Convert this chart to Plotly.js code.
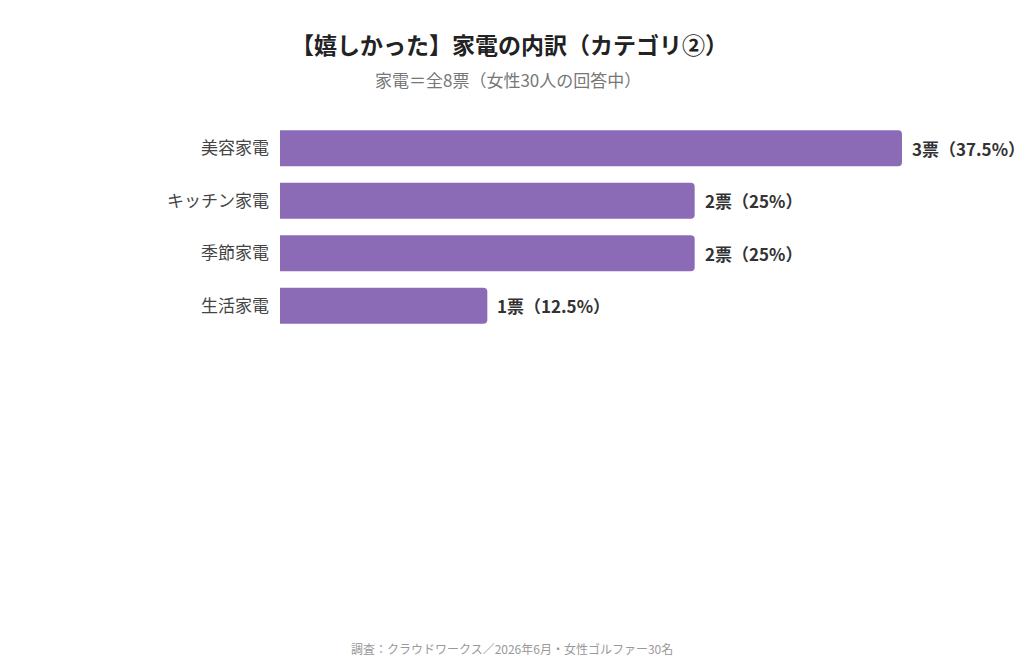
<!DOCTYPE html>
<html><head><meta charset="utf-8">
<script src="https://cdn.plot.ly/plotly-3.0.1.min.js"></script>
<style>html,body{margin:0;padding:0;background:#fff;}#chart{width:1024px;height:670px;}</style>
</head><body><div id="chart"></div>
<script>
const categories = ["美容家電", "キッチン家電", "季節家電", "生活家電"];
const votes = [3, 2, 2, 1];
const percents = ["37.5%", "25%", "25%", "12.5%"];
const labels = votes.map((v, i) => v + "票（" + percents[i] + "）");

const FONT = '"Noto Sans CJK JP", "Noto Sans", sans-serif';

const trace = {
  type: 'bar',
  orientation: 'h',
  y: categories,
  x: votes,
  textposition: 'none',
  cliponaxis: false,
  marker: {color: '#8B6BB6'},
  hoverinfo: 'none'
};

const layout = {
  width: 1024, height: 670,
  paper_bgcolor: '#ffffff', plot_bgcolor: '#ffffff',
  margin: {l: 280, r: 122, t: 122, b: 338},
  bargap: 0.31,
  barcornerradius: 4,
  showlegend: false,
  font: {family: FONT},
  xaxis: {range: [0, 3], visible: false, fixedrange: true},
  yaxis: {
    autorange: 'reversed', showgrid: false, zeroline: false, showline: false,
    ticks: '', ticklabelstandoff: 10,
    tickfont: {family: FONT, size: 17, color: '#444444'}
  },
  annotations: []
};

const plotH = 670 - layout.margin.t - layout.margin.b;
const plotW = 1024 - layout.margin.l - layout.margin.r;
function py(pixY){ return (670 - layout.margin.b - pixY) / plotH; }
function px(pixX){ return (pixX - layout.margin.l) / plotW; }

layout.annotations.push(
  {text: '【嬉しかった】家電の内訳（カテゴリ②）', xref: 'paper', yref: 'paper',
   x: px(509), y: py(44), xanchor: 'center', yanchor: 'middle', showarrow: false,
   font: {family: FONT, size: 23, color: '#222222', weight: 'bold'}},
  {text: '家電＝全8票（女性30人の回答中）', xref: 'paper', yref: 'paper',
   x: px(508), y: py(79), xanchor: 'center', yanchor: 'middle', showarrow: false,
   font: {family: FONT, size: 17, color: '#777777'}},
  {text: '調査：クラウドワークス／2026年6月・女性ゴルファー30名', xref: 'paper', yref: 'paper',
   x: px(512), y: py(648), xanchor: 'center', yanchor: 'middle', showarrow: false,
   font: {family: FONT, size: 12, color: '#999999'}}
);

categories.forEach((c, i) => {
  layout.annotations.push({
    text: labels[i], x: votes[i], y: c, xref: 'x', yref: 'y',
    xanchor: 'left', yanchor: 'middle', xshift: 8, showarrow: false,
    font: {family: FONT, size: 17, color: '#333333', weight: 'bold'}
  });
});

Plotly.newPlot('chart', [trace], layout, {staticPlot: true, displayModeBar: false});
</script>
</body></html>
